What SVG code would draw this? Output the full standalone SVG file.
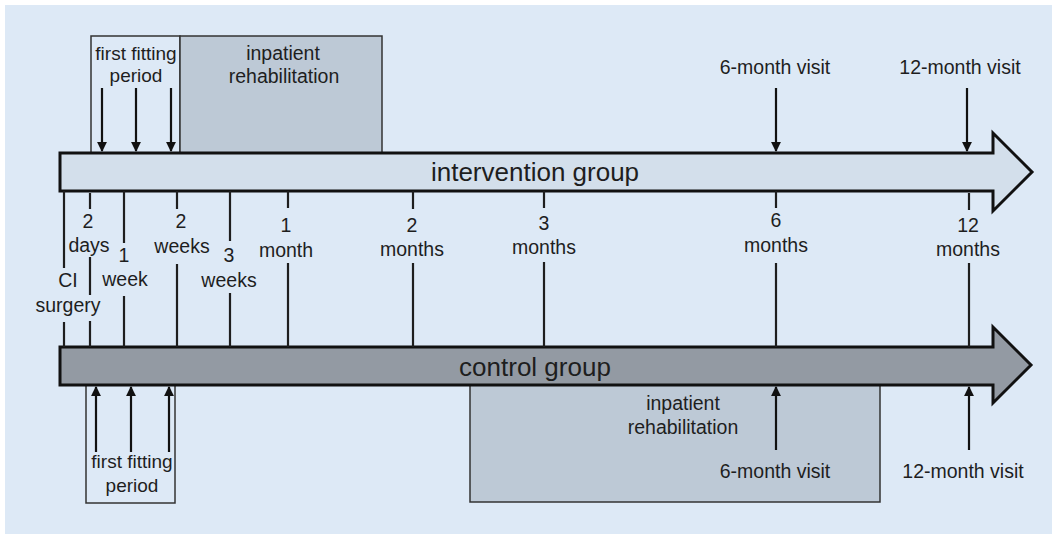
<svg xmlns="http://www.w3.org/2000/svg" width="1052" height="534" viewBox="0 0 1052 534">
<defs>
<style>
text{font-family:"Liberation Sans",Arial,sans-serif;fill:#1e1e1e}
.s{font-size:19.5px;text-anchor:middle}
.f{font-size:19px;text-anchor:middle}
.b{font-size:26px;text-anchor:middle}
.tick{stroke:#1e1e1e;stroke-width:2.2;fill:none}
.arr{stroke:#111;stroke-width:2.2;fill:none;marker-end:url(#ah)}
.box{stroke:#333;stroke-width:1.5}
.big{stroke:#111;stroke-width:3;stroke-linejoin:miter}
</style>
<marker id="ah" viewBox="0 0 10 10" refX="9" refY="5" markerWidth="4.5" markerHeight="5.5" orient="auto" markerUnits="strokeWidth">
<path d="M0,0 L10,5 L0,10 Z" fill="#111"/>
</marker>
</defs>
<rect x="0" y="0" width="1052" height="534" fill="#ffffff"/>
<rect x="5" y="5" width="1047" height="529" fill="#dde9f6"/>

<g id="top-fitting">
<rect class="box" x="91" y="36" width="89" height="117" fill="#dde9f6"/>
<text class="f" x="136" y="60">first fitting</text>
<text class="f" x="136" y="82">period</text>
</g>
<g id="top-rehab">
<rect class="box" x="180" y="36" width="202" height="117" fill="#bdc9d6"/>
<text class="s" x="283" y="60">inpatient</text>
<text class="s" x="284" y="83">rehabilitation</text>
</g>
<g id="top-visits">
<text class="s" x="775" y="74">6-month visit</text>
<text class="s" x="960" y="74">12-month visit</text>
</g>

<g id="bottom-fitting">
<rect class="box" x="86" y="384" width="89" height="119" fill="#dde9f6"/>
<text class="f" x="132" y="468">first fitting</text>
<text class="f" x="132" y="492">period</text>
</g>
<g id="bottom-rehab">
<rect class="box" x="470" y="384" width="410" height="118" fill="#bdc9d6"/>
<text class="s" x="683" y="410">inpatient</text>
<text class="s" x="683" y="434">rehabilitation</text>
<text class="s" x="775" y="478">6-month visit</text>
</g>
<g id="bottom-visits">
<text class="s" x="963" y="478">12-month visit</text>
</g>

<g id="intervention-group">
<path class="big" d="M60,153 L993,153 L993,133 L1032,172 L993,211 L993,191 L60,191 Z" fill="#d3dfeb"/>
<text class="b" x="535" y="181">intervention group</text>
</g>
<g id="control-group">
<path class="big" d="M60,347 L993,347 L993,327 L1031,365 L993,403 L993,385 L60,385 Z" fill="#939aa3"/>
<text class="b" x="535" y="376">control group</text>
</g>

<g id="timepoints">
<text class="s" x="88" y="228">2</text>
<text class="s" x="89" y="252">days</text>
<text class="s" x="68" y="287">CI</text>
<text class="s" x="68" y="312">surgery</text>
<text class="s" x="124" y="262">1</text>
<text class="s" x="125" y="286">week</text>
<text class="s" x="181" y="228">2</text>
<text class="s" x="182" y="253">weeks</text>
<text class="s" x="229" y="262">3</text>
<text class="s" x="229" y="287">weeks</text>
<text class="s" x="286" y="232">1</text>
<text class="s" x="286" y="257">month</text>
<text class="s" x="412" y="232">2</text>
<text class="s" x="412" y="256">months</text>
<text class="s" x="544" y="230">3</text>
<text class="s" x="544" y="254">months</text>
<text class="s" x="776" y="227">6</text>
<text class="s" x="776" y="252">months</text>
<text class="s" x="968" y="232">12</text>
<text class="s" x="968" y="256">months</text>
</g>

<g id="connectors">
<path class="tick" d="M64,191 V268 M64,322 V347"/>
<path class="tick" d="M90,193 V209 M90,257 V295 M90,321 V347"/>
<path class="tick" d="M124,191 V243 M124,296 V347"/>
<path class="tick" d="M177,191 V209 M177,264 V347"/>
<path class="tick" d="M230,191 V241 M230,293 V347"/>
<path class="tick" d="M288,191 V208 M288,263 V347"/>
<path class="tick" d="M413,191 V209 M413,263 V347"/>
<path class="tick" d="M544,191 V208 M544,262 V347"/>
<path class="tick" d="M776,191 V208 M776,263 V347"/>
<path class="tick" d="M969,193 V210 M969,263 V347"/>
<line class="arr" x1="102" y1="88" x2="102" y2="151"/>
<line class="arr" x1="136" y1="88" x2="136" y2="151"/>
<line class="arr" x1="171" y1="88" x2="171" y2="151"/>
<line class="arr" x1="776" y1="88" x2="776" y2="151"/>
<line class="arr" x1="967" y1="88" x2="967" y2="151"/>
<line class="arr" x1="96" y1="452" x2="96" y2="387"/>
<line class="arr" x1="131" y1="452" x2="131" y2="387"/>
<line class="arr" x1="169" y1="452" x2="169" y2="387"/>
<line class="arr" x1="776" y1="450" x2="776" y2="387"/>
<line class="arr" x1="969" y1="450" x2="969" y2="387"/>
</g>
</svg>
